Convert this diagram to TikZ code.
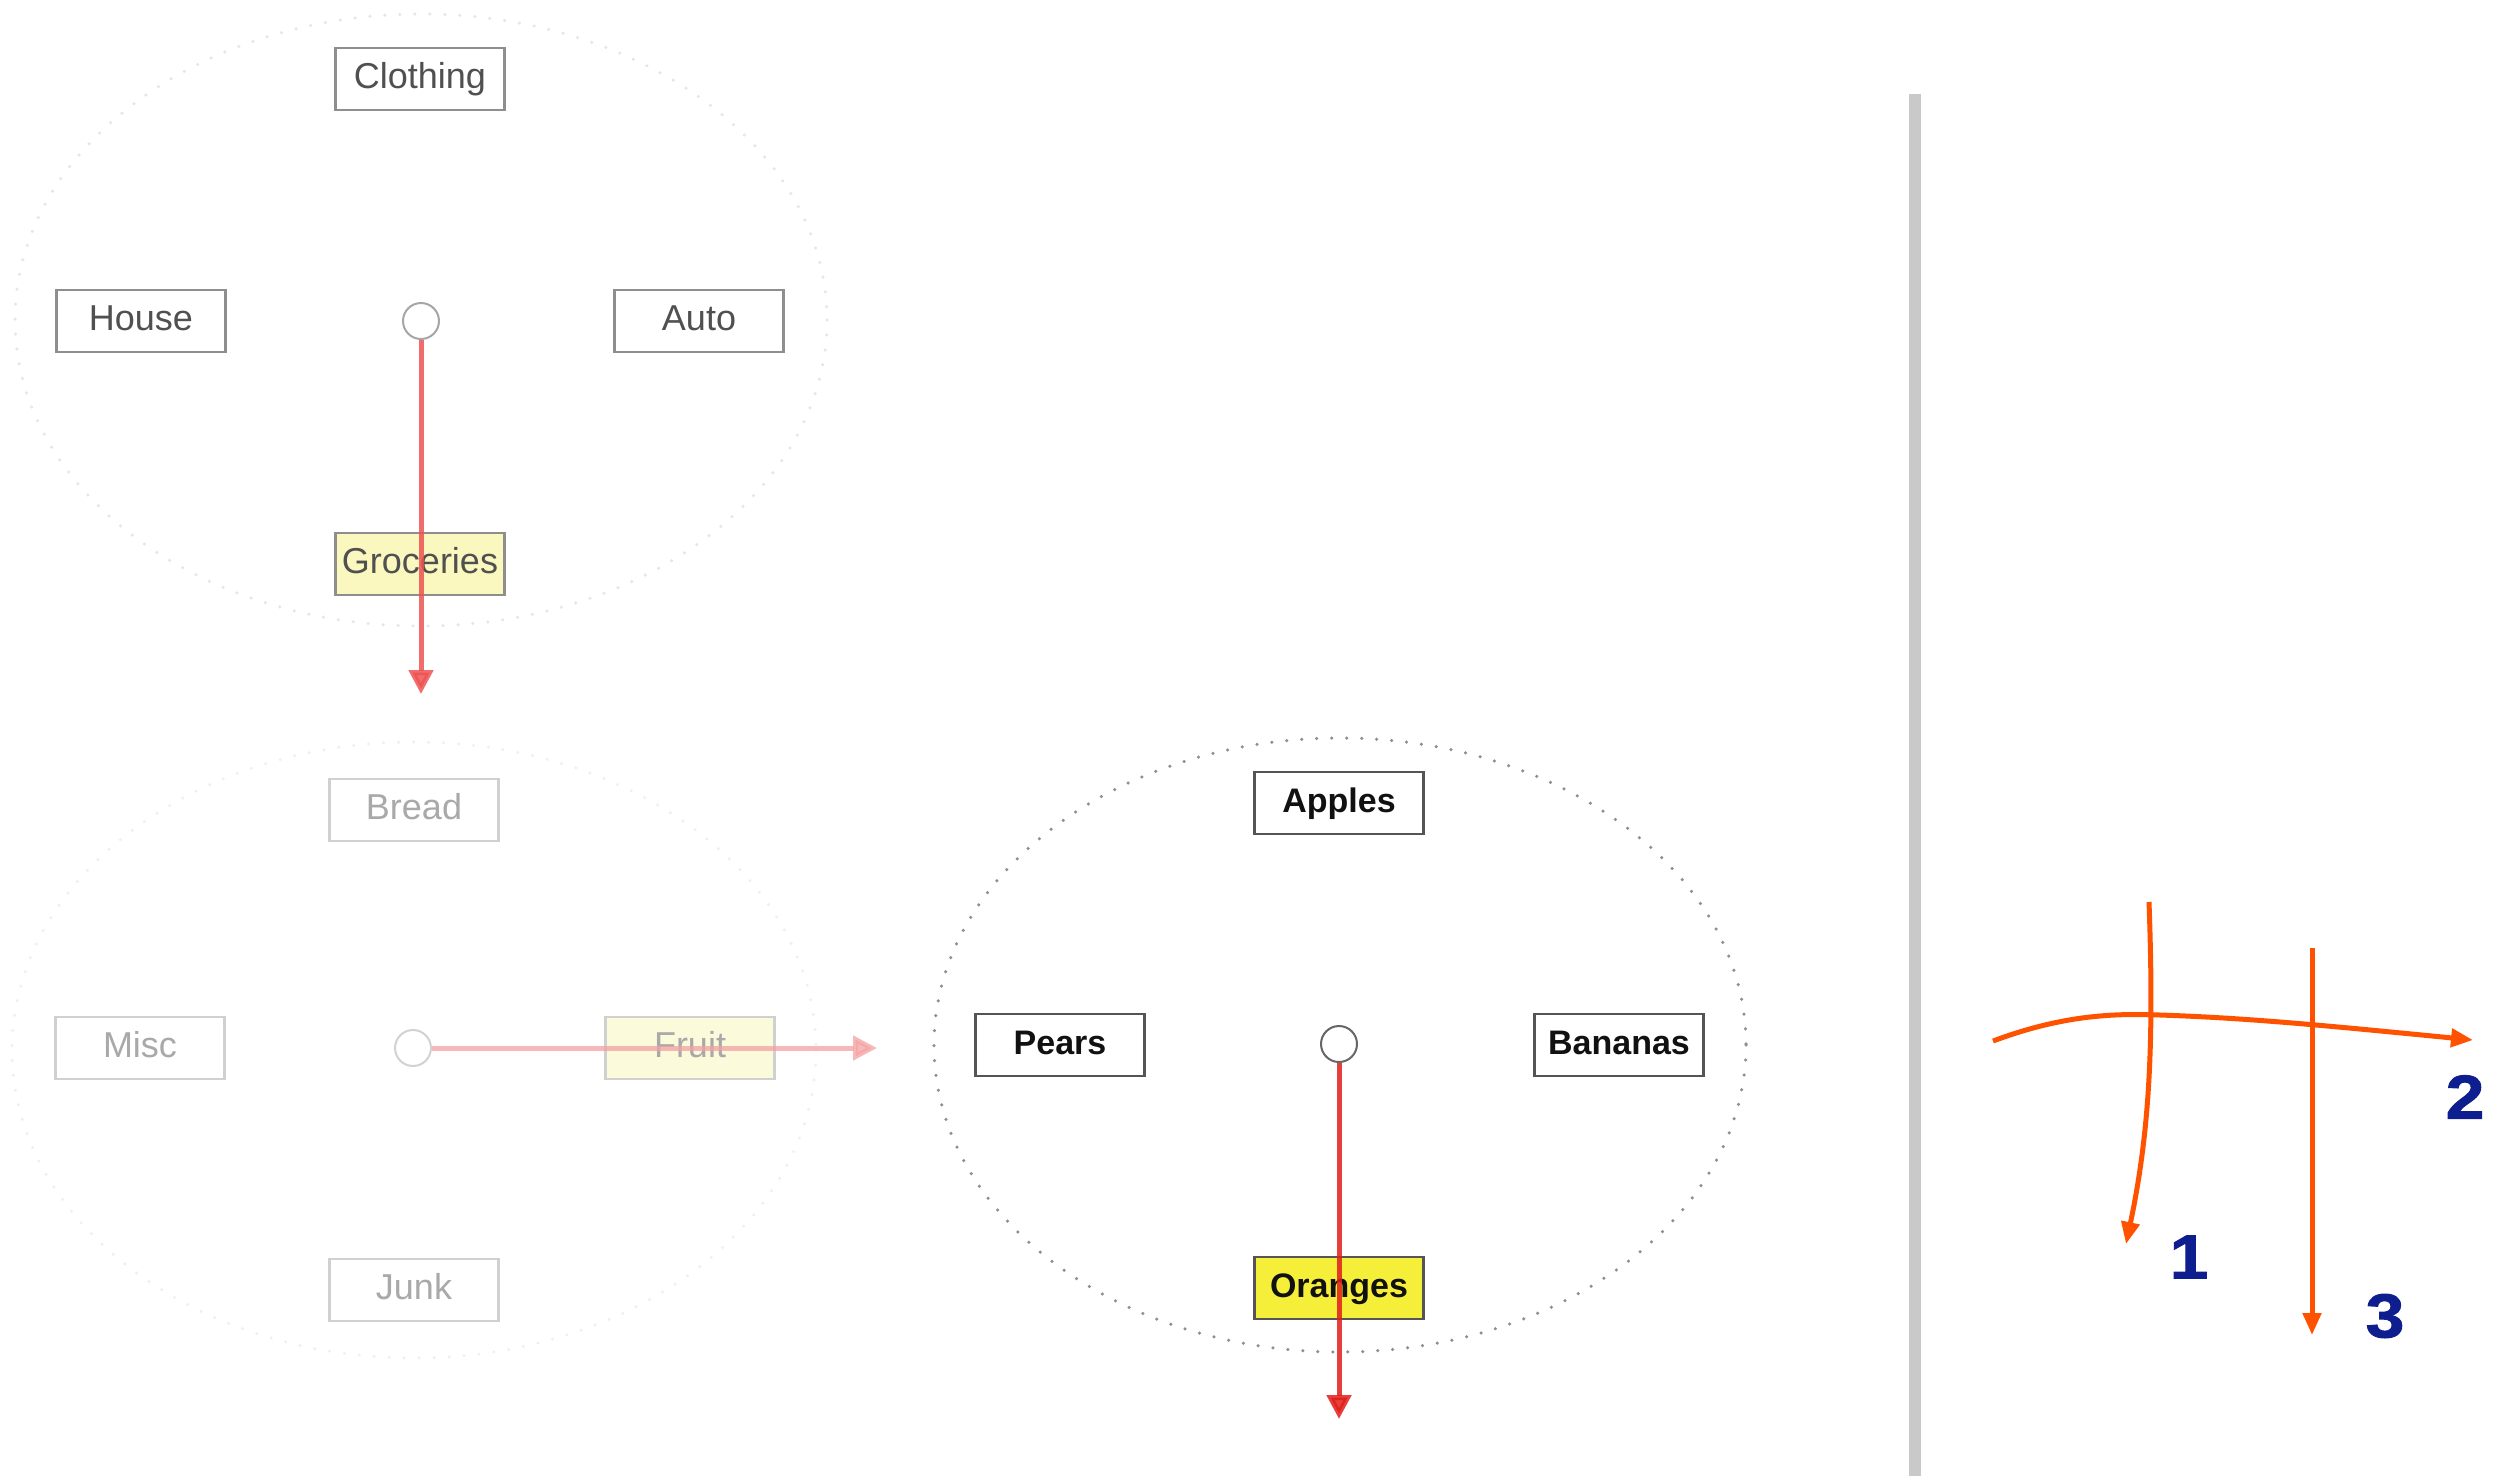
\documentclass[tikz,border=0pt]{standalone}
\usepackage{fontspec}
\setmainfont{Liberation Sans}
\newfontfamily\digitfont[FakeBold=1.6,FakeStretch=1.12]{Liberation Sans Bold}
\usetikzlibrary{arrows.meta}

% palette
\definecolor{txtA}{HTML}{505050}   % first level, dimmed
\definecolor{rimA}{HTML}{8E8E8E}
\definecolor{fillA}{HTML}{FAF8BE}
\definecolor{arrA}{HTML}{EE5252}
\definecolor{dotA}{HTML}{E6E6E6}
\definecolor{txtB}{HTML}{A9A9A9}   % second level, faded further
\definecolor{rimB}{HTML}{D0D0D0}
\definecolor{fillB}{HTML}{FBFADA}
\definecolor{arrB}{HTML}{F3A2A2}
\definecolor{dotB}{HTML}{F0F0F0}
\definecolor{txtC}{HTML}{111111}   % active level
\definecolor{rimC}{HTML}{555555}
\definecolor{fillC}{HTML}{F6EF3A}
\definecolor{arrC}{HTML}{E01E1A}
\definecolor{dotC}{HTML}{8F8F8F}
\definecolor{strokeO}{HTML}{FF5200}
\definecolor{navy}{HTML}{0E1E8E}
\definecolor{bar}{HTML}{C9C9C9}

\begin{document}
\begin{tikzpicture}[x=1pt,y=-1pt,
  catbox/.style={rectangle, draw, line width=2.5pt, minimum width=169pt,
    minimum height=62pt, inner sep=0pt, text height=25pt, text depth=7pt, fill=white},
  lvlA/.style={catbox, draw=rimA, text=txtA, font=\fontsize{36}{40}\selectfont},
  lvlB/.style={catbox, draw=rimB, text=txtB, font=\fontsize{36}{40}\selectfont},
  lvlC/.style={catbox, draw=rimC, text=txtC, font=\fontsize{34}{38}\selectfont\bfseries},
  hub/.style={circle, draw, fill=white, line width=2pt, minimum size=36pt, inner sep=0pt},
  ring/.style={line width=3.5pt, line cap=round, dash pattern=on 0pt off 15pt},
  pick/.style={line width=5pt, -{Triangle[length=24pt,width=24pt]}},
  hand/.style={draw=strokeO, line width=5pt, -{Triangle[length=22pt,width=18pt]}},
  num/.style={text=navy, font=\fontsize{62}{70}\digitfont, inner sep=0pt}
]
\useasboundingbox (0,0) rectangle (2503,1476);

% ---- first level: top-left cluster ----
\coordinate (cA) at (421,320);
\draw[ring, draw=dotA] (cA) ellipse [x radius=406, y radius=306];
\node[lvlA] (clothing) at (420,79) {Clothing};
\node[lvlA] (house) at (141,321) {House};
\node[lvlA] (auto) at (699,321) {Auto};
\node[lvlA, fill=fillA] (groceries) at (420,564) {Groceries};
\node[hub, draw=gray!70] (hubA) at (421,321) {};
\coordinate (tipA) at (421,694);
\draw[pick, draw=arrA, fill=arrA, opacity=0.85] (hubA.south) -- (tipA);

% ---- second level: bottom-left cluster ----
\coordinate (cB) at (414,1050);
\draw[ring, draw=dotB] (cB) ellipse [x radius=402, y radius=308];
\node[lvlB] (bread) at (414,810) {Bread};
\node[lvlB] (misc) at (140,1048) {Misc};
\node[lvlB, fill=fillB] (fruit) at (690,1048) {Fruit};
\node[lvlB] (junk) at (414,1290) {Junk};
\node[hub, draw=gray!35] (hubB) at (413,1048) {};
\coordinate (tipB) at (877,1048);
\draw[pick, draw=arrB, fill=arrB, opacity=0.75] (hubB.east) -- (tipB);

% ---- third level: active cluster ----
\coordinate (cC) at (1340,1045);
\draw[ring, draw=dotC] (cC) ellipse [x radius=406, y radius=307];
\node[lvlC] (apples) at (1339,803) {Apples};
\node[lvlC] (pears) at (1060,1045) {Pears};
\node[lvlC] (bananas) at (1619,1045) {Bananas};
\node[lvlC, fill=fillC] (oranges) at (1339,1288) {Oranges};
\node[hub, draw=gray!80!black] (hubC) at (1339,1044) {};
\coordinate (tipC) at (1339,1419);
\draw[pick, draw=arrC, fill=arrC, opacity=0.85] (hubC.south) -- (tipC);

% ---- divider ----
\fill[bar] (1909,94) rectangle (1921,1476);

% ---- hand-drawn path sketch ----
\coordinate (s1a) at (2149,902);
\coordinate (s1b) at (2126,1244);
\coordinate (s2a) at (1993,1041);
\coordinate (s2m) at (2160,1015);
\coordinate (s2b) at (2473,1040);
\coordinate (s3a) at (2312,948);
\coordinate (s3b) at (2312,1335);
\draw[hand] (s1a) .. controls (2154,1040) and (2150,1130) .. (s1b);
\draw[hand] (s2a) .. controls (2060,1016) and (2110,1013) .. (s2m)
               .. controls (2250,1018) and (2330,1026) .. (s2b);
\draw[hand] (s3a) -- (s3b);

\node[num] (n1) at (2189,1257) {1};
\node[num] (n2) at (2465,1097) {2};
\node[num] (n3) at (2385,1316) {3};
\end{tikzpicture}
\end{document}
